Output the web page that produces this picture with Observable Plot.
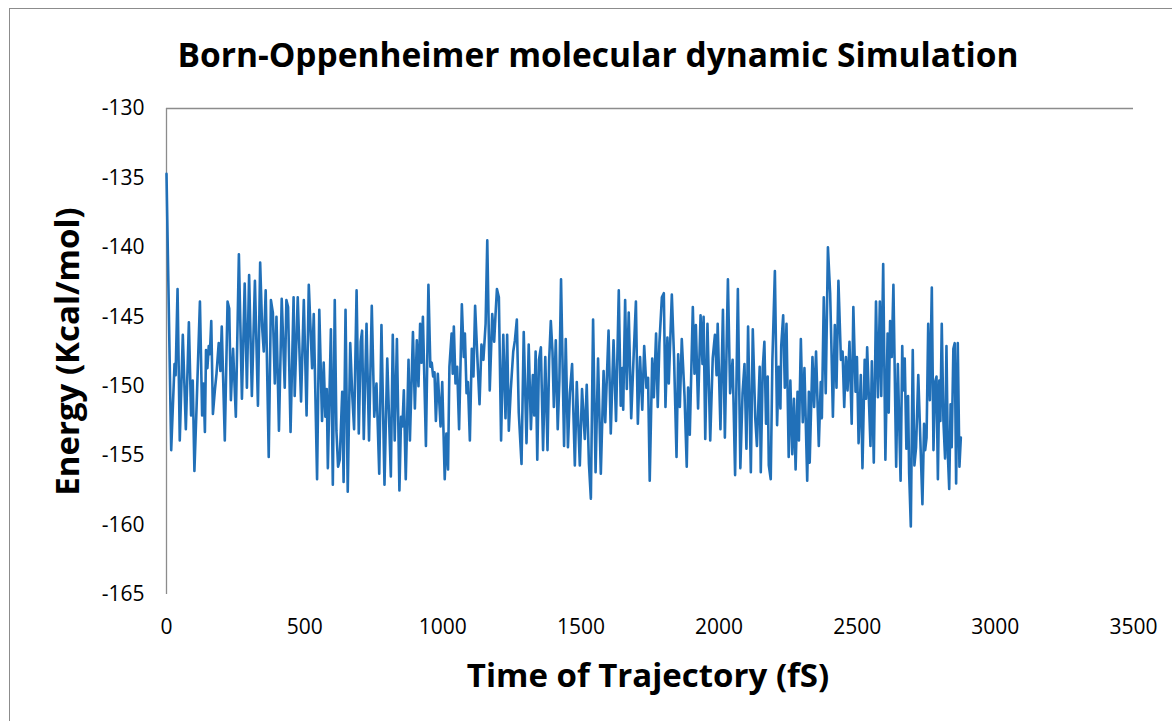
<!DOCTYPE html>
<html>
<head>
<meta charset="utf-8">
<script src="https://cdn.jsdelivr.net/npm/d3@7"></script>
<script src="https://cdn.jsdelivr.net/npm/@observablehq/plot@0.6"></script>
<style>
  html, body { margin: 0; padding: 0; background: #fff; overflow: hidden; }
  #frame { position: absolute; left: 9px; top: 8px; width: 1300px; height: 900px; border: 1.5px solid #8c8c8c; }
  #chart { position: absolute; left: 0; top: 0; }
  #chart svg { font-family: "Open Sans", sans-serif; }
</style>
</head>
<body>
<div id="frame"></div>
<div id="chart"></div>
<script>
const chartTitle = "Born-Oppenheimer molecular dynamic Simulation";
const xTitle = "Time of Trajectory (fS)";
const yTitle = "Energy (Kcal/mol)";
const xTicks = [0, 500, 1000, 1500, 2000, 2500, 3000, 3500];
const yTicks = [-165, -160, -155, -150, -145, -140, -135, -130];

const timeFs = [
0,17,29,33,40,48,59,70,81,89,95,101,109,121,129,134,139,143,148,153,157,162,168,175,181,189,195,200,211,221,227,233,241,251,262,273,283,291,299,309,320,331,339,346,352,359,370,378,385,392,398,407,417,428,434,440,449,460,464,475,487,497,507,515,527,533,545,553,563,569,575,580,584,595,602,609,615,621,627,636,641,648,656,665,672,679,688,696,703,708,714,724,733,743,752,760,770,778,789,799,812,819,826,834,843,849,854,859,866,876,881,892,899,906,912,918,923,928,939,948,955,960,965,970,975,982,992,998,1007,1013,1019,1024,1032,1036,1040,1046,1052,1059,1069,1076,1080,1086,1091,1098,1105,1111,1117,1126,1133,1140,1147,1155,1161,1170,1179,1186,1191,1196,1203,1211,1219,1227,1233,1239,1246,1255,1261,1268,1275,1285,1293,1303,1311,1319,1326,1331,1336,1342,1348,1355,1363,1371,1379,1385,1391,1397,1402,1409,1416,1422,1428,1439,1445,1453,1460,1468,1478,1485,1496,1504,1514,1521,1529,1536,1544,1553,1562,1572,1582,1588,1600,1608,1618,1627,1637,1644,1650,1653,1660,1666,1673,1682,1691,1699,1706,1714,1722,1729,1737,1743,1749,1758,1764,1772,1778,1784,1793,1800,1806,1813,1818,1829,1837,1846,1852,1858,1865,1875,1883,1888,1894,1905,1911,1916,1924,1933,1940,1944,1950,1958,1968,1977,1985,1991,1995,2005,2014,2021,2032,2040,2049,2058,2068,2077,2085,2092,2099,2105,2115,2122,2131,2137,2147,2151,2158,2164,2170,2176,2180,2187,2193,2202,2210,2216,2222,2225,2232,2238,2244,2252,2258,2265,2271,2277,2284,2289,2296,2303,2309,2319,2325,2328,2338,2344,2351,2361,2368,2372,2379,2386,2394,2402,2406,2412,2419,2425,2432,2441,2447,2453,2459,2465,2472,2480,2486,2494,2499,2505,2513,2519,2527,2532,2536,2548,2553,2560,2568,2575,2582,2587,2594,2602,2610,2614,2619,2625,2631,2641,2647,2657,2663,2666,2672,2678,2684,2688,2694,2701,2707,2713,2721,2736,2742,2746,2751,2757,2763,2770,2776,2782,2787,2792,2797,2801,2806,2812,2818,2823,2828,2833,2838,2842,2848,2853,2858,2864,2870,2875
];
const energy = [
-134.7,-154.6,-148.4,-149.2,-143.0,-153.9,-146.3,-153.1,-145.4,-152.1,-149.6,-156.1,-151.4,-143.9,-152.1,-149.8,-153.3,-147.4,-148.7,-147.1,-147.7,-145.3,-152.0,-150.3,-149.1,-146.9,-148.9,-145.7,-153.9,-143.9,-144.4,-151.0,-147.3,-152.2,-140.5,-150.9,-142.6,-150.1,-142.0,-150.7,-142.4,-151.4,-141.1,-145.7,-147.5,-143.1,-155.1,-143.8,-144.7,-149.8,-145.0,-153.2,-143.7,-150.1,-143.8,-144.3,-153.3,-143.6,-150.7,-143.6,-151.1,-143.8,-152.1,-142.7,-148.7,-144.8,-156.7,-144.5,-152.5,-148.3,-152.2,-150.2,-155.9,-145.9,-157.1,-143.8,-153.2,-155.8,-155.3,-150.4,-156.9,-144.5,-157.6,-146.9,-150.5,-153.1,-143.1,-153.4,-146.8,-146.0,-153.8,-145.5,-153.9,-144.2,-152.2,-149.8,-156.3,-145.6,-157.1,-148.0,-156.5,-146.3,-153.9,-146.6,-157.5,-152.2,-152.9,-150.3,-156.7,-148.1,-153.9,-146.1,-151.6,-146.7,-150.0,-145.5,-148.3,-145.0,-154.3,-142.7,-148.6,-148.3,-149.3,-149.0,-152.5,-149.1,-152.9,-149.7,-156.7,-153.4,-156.0,-148.6,-146.2,-149.1,-145.7,-149.8,-148.6,-153.1,-144.1,-147.9,-146.2,-150.5,-149.7,-153.9,-147.3,-149.3,-144.2,-148.3,-151.3,-147.0,-148.1,-145.5,-139.5,-150.3,-144.8,-146.8,-144.8,-143.0,-143.6,-153.9,-146.3,-152.3,-146.3,-153.2,-150.3,-147.5,-146.7,-145.2,-151.9,-155.6,-146.1,-154.1,-147.0,-153.1,-149.2,-152.1,-147.5,-155.3,-148.1,-147.2,-154.6,-147.9,-154.6,-148.1,-145.3,-147.5,-151.5,-146.7,-153.1,-149.6,-142.3,-154.3,-146.6,-154.4,-150.5,-148.4,-155.7,-149.7,-155.7,-150.2,-153.8,-149.9,-155.6,-158.1,-145.2,-156.2,-148.0,-156.3,-148.9,-152.6,-146.0,-153.4,-146.7,-152.5,-143.1,-151.4,-148.7,-151.7,-143.8,-150.2,-144.7,-152.3,-147.7,-143.9,-152.7,-147.9,-151.7,-147.1,-150.1,-149.4,-156.8,-148.0,-150.8,-146.2,-151.5,-146.9,-143.6,-143.3,-151.5,-146.5,-149.8,-143.4,-147.9,-155.1,-147.7,-151.5,-146.6,-150.7,-155.8,-150.1,-153.5,-144.3,-149.1,-145.6,-151.6,-144.9,-148.4,-145.0,-153.8,-145.5,-153.9,-148.0,-146.3,-149.2,-145.5,-153.1,-144.5,-153.7,-142.3,-150.5,-148.1,-156.4,-143.0,-155.9,-150.5,-148.4,-154.5,-145.7,-156.2,-145.9,-152.3,-154.3,-148.6,-156.2,-148.7,-146.8,-152.7,-149.3,-155.7,-156.7,-148.1,-141.7,-152.8,-148.6,-151.6,-147.1,-144.9,-150.1,-145.5,-155.1,-149.6,-154.9,-150.9,-156.0,-150.4,-153.9,-146.6,-152.6,-148.7,-156.8,-150.4,-155.5,-147.9,-151.5,-147.5,-154.3,-149.7,-152.3,-143.6,-150.5,-140.0,-143.3,-146.6,-152.2,-145.6,-150.1,-142.4,-148.1,-147.5,-151.5,-147.9,-150.3,-146.8,-152.7,-144.3,-150.4,-147.9,-154.1,-149.2,-155.9,-148.1,-150.9,-147.2,-154.3,-148.2,-155.5,-143.9,-150.8,-143.9,-150.7,-141.2,-155.3,-146.2,-151.9,-145.3,-147.9,-142.7,-155.8,-148.4,-156.8,-147.1,-150.3,-148.0,-154.5,-150.7,-156.3,-160.1,-147.4,-155.7,-154.4,-149.2,-158.5,-152.7,-154.6,-153.7,-145.5,-151.0,-142.9,-154.6,-149.7,-149.3,-156.7,-149.6,-152.5,-145.5,-152.5,-155.2,-147.1,-154.9,-157.4,-151.3,-154.4,-147.3,-146.9,-157.0,-146.9,-155.8,-153.7
];

const data = timeFs.map((t, i) => ({t, e: energy[i]}));
const plain = d => String(d);

const chart = Plot.plot({
  width: 1172,
  height: 721,
  marginLeft: 166,
  marginRight: 39,
  marginTop: 108,
  marginBottom: 127,
  style: {background: "transparent", color: "#000"},
  x: {domain: [0, 3500], ticks: xTicks},
  y: {domain: [-165, -130], ticks: yTicks},
  marks: [
    Plot.axisX(xTicks, {tickSize: 0, tickPadding: 25, fontSize: 21, label: null, tickFormat: plain}),
    Plot.axisY(yTicks, {tickSize: 0, tickPadding: 22, fontSize: 21, label: null, tickFormat: plain}),
    Plot.ruleY([-130], {stroke: "#8c8c8c", strokeWidth: 1.3}),
    Plot.ruleX([0], {stroke: "#8c8c8c", strokeWidth: 1.3}),
    Plot.line(data, {x: "t", y: "e", stroke: "#2170b8", strokeWidth: 2.6, strokeLinejoin: "round"}),
    Plot.text([chartTitle], {frameAnchor: "top", dx: -52, dy: -65, fontSize: 33.5, fontWeight: "bold", fill: "#000"}),
    Plot.text([xTitle], {frameAnchor: "bottom", dx: -2, dy: 92, fontSize: 33, fontWeight: "bold", fill: "#000"}),
    Plot.text([yTitle], {frameAnchor: "left", dx: -98, rotate: -90, textAnchor: "middle", fontSize: 33, fontWeight: "bold", fill: "#000"})
  ]
});
document.getElementById("chart").appendChild(chart);
</script>
</body>
</html>
